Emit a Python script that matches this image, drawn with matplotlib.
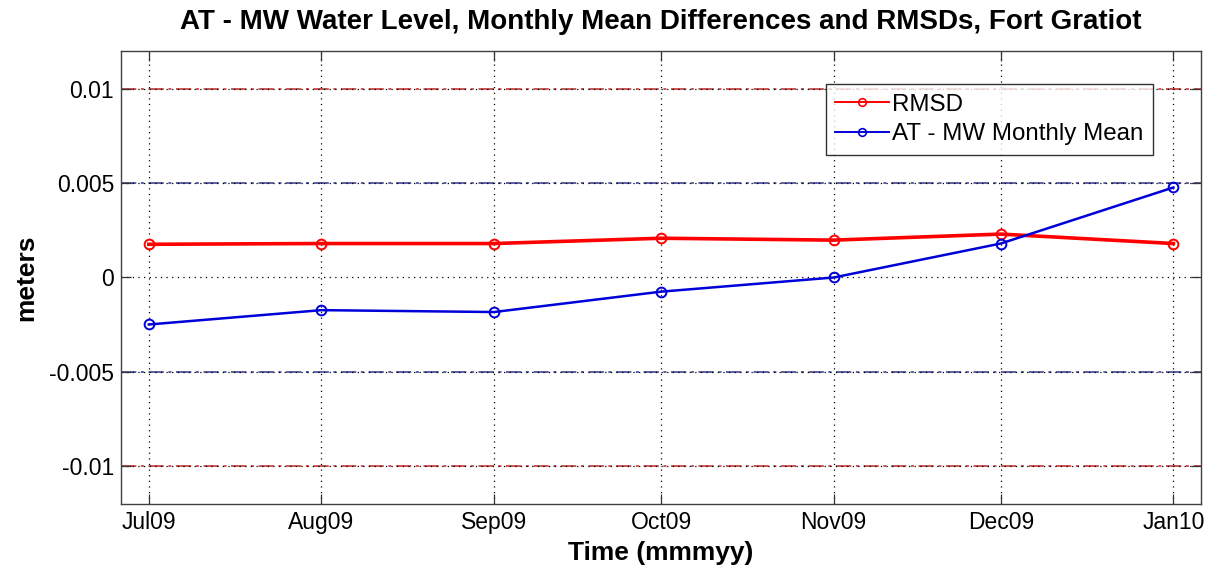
import matplotlib
matplotlib.use("Agg")
import matplotlib.pyplot as plt
from datetime import datetime

# monthly values
months = [datetime(2009, 7, 1), datetime(2009, 8, 1), datetime(2009, 9, 1),
          datetime(2009, 10, 1), datetime(2009, 11, 1), datetime(2009, 12, 1),
          datetime(2010, 1, 1)]
month_labels = ["Jul09", "Aug09", "Sep09", "Oct09", "Nov09", "Dec09", "Jan10"]
rmsd = [0.00176, 0.0018, 0.0018, 0.00208, 0.00198, 0.0023, 0.0018]
mean_diff = [-0.00249, -0.00173, -0.00183, -0.00075, 0.0, 0.0018, 0.00477]
yticks = [-0.01, -0.005, 0, 0.005, 0.01]
ytick_labels = ["-0.01", "-0.005", "0", "0.005", "0.01"]
red_limits = [0.01, -0.01]
blue_limits = [0.005, -0.005]

plt.rcParams['font.family'] = ['Liberation Sans', 'DejaVu Sans']

fig = plt.figure(figsize=(12.12, 5.68), dpi=100)
ax = fig.add_axes([0.0998, 0.1127, 0.8913, 0.7975])

# limit lines
for v in red_limits:
    ax.axhline(v, color=(0.75, 0.15, 0.15), lw=1.1, dashes=(10, 3, 2, 3), zorder=1)
for v in blue_limits:
    ax.axhline(v, color=(0.2, 0.2, 0.55), lw=1.1, dashes=(10, 3, 2, 3), zorder=1)

ax.plot(months, rmsd, '-o', color='red', lw=2.6, ms=7, mfc='none', mew=1.4,
        label="RMSD", zorder=3)
ax.plot(months, mean_diff, '-o', color=(0, 0, 0.85), lw=1.8, ms=7, mfc='none',
        mew=1.4, label="AT - MW Monthly Mean", zorder=4)

ax.set_xlim(datetime(2009, 6, 26), datetime(2010, 1, 6))
ax.set_ylim(-0.012, 0.012)
ax.set_xticks(months)
ax.set_xticklabels(month_labels)
ax.set_yticks(yticks)
ax.set_yticklabels(ytick_labels)

ax.grid(True, color='black', linestyle=(0, (1, 3.5)), lw=0.9, zorder=0)
ax.tick_params(direction='in', length=7, width=0.9, top=True, right=True,
               labelsize=16.5, pad=5, color='#333333')
for s in ax.spines.values():
    s.set_color('#404040')
    s.set_linewidth(1)

ax.set_title("AT - MW Water Level, Monthly Mean Differences and RMSDs, Fort Gratiot",
             fontsize=20, fontweight='bold', pad=16)
ax.set_xlabel("Time (mmmyy)", fontsize=19, fontweight='bold', labelpad=5)
ax.set_ylabel("meters", fontsize=19, fontweight='bold', labelpad=8)

leg = ax.legend(loc='upper right', bbox_to_anchor=(0.9556, 0.927), fontsize=17.4,
                frameon=True, fancybox=False, handlelength=2.2, handletextpad=0.15,
                borderpad=0.4, labelspacing=0.3, borderaxespad=0)
leg.get_frame().set_edgecolor('black')
leg.get_frame().set_linewidth(1)
for h in leg.get_lines():
    h.set_linewidth(1.4)
    h.set_markersize(5.5)
    h.set_markeredgewidth(1.2)

fig.savefig("out.png", dpi=100)
